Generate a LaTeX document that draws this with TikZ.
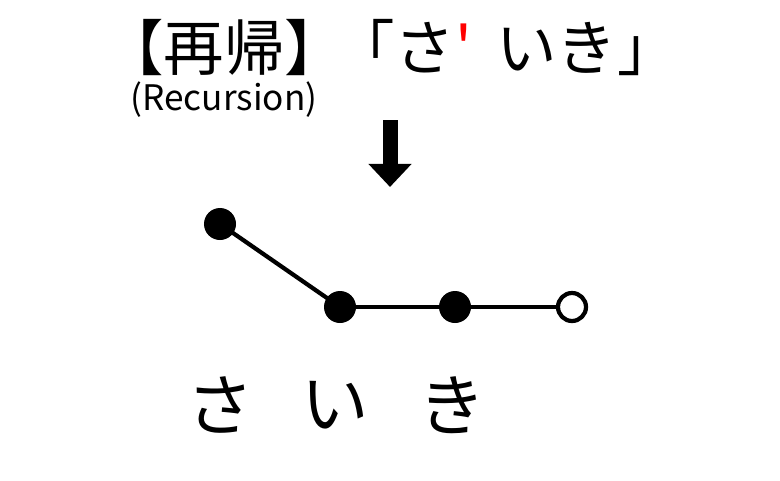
\documentclass[tikz,border=0pt]{standalone}
\usepackage{fontspec}
\setmainfont{Noto Sans CJK JP}
\newfontfamily\tickfont{Noto Sans CJK JP}[Ligatures=TeXOff]
\usepackage{tikz}
\usetikzlibrary{arrows.meta}

\tikzset{
  pitchdot/.style={circle,fill=black,inner sep=0pt,minimum size=0.8cm},
  opendot/.style={circle,draw=black,fill=white,line width=3pt,inner sep=0pt,minimum size=0.7cm},
  pitchline/.style={line width=3pt},
  kana/.style={font=\fontsize{48}{48}\selectfont,inner sep=0pt}
}

\begin{document}
\begin{tikzpicture}[x=0.025cm,y=-0.025cm,line join=round]
  \useasboundingbox (0,0) rectangle (780,480);
  \node[font=\fontsize{43}{43}\selectfont,inner sep=0pt] (title) at (224,48) {【再帰】};
  \node[font=\fontsize{43}{43}\selectfont,inner sep=0pt] (word) at (506,48) {「さ{\tickfont\color{red}'}\hspace{0.4em}いき」};
  \node[font=\fontsize{25}{25}\selectfont,inner sep=0pt] (eng) at (224,100) {(Recursion)};
  \coordinate (AT) at (390,120);
  \coordinate (AH) at (390,187);
  \draw[line width=0.375cm,-{Triangle[length=0.58cm,width=1.05cm]}] (AT) -- (AH);
  \node[pitchdot] (P1) at (220,224) {};
  \node[pitchdot] (P2) at (340,307) {};
  \node[pitchdot] (P3) at (455,307) {};
  \node[opendot] (P4) at (572,307) {};
  \draw[pitchline] (P1.center) -- (P2.center);
  \draw[pitchline] (P2.center) -- (P3.center);
  \draw[pitchline] (P3.center) -- (P4);
  \node[kana] (K1) at (220,405) {さ};
  \node[kana] (K2) at (335,405) {い};
  \node[kana] (K3) at (452,405) {き};
\end{tikzpicture}
\end{document}
